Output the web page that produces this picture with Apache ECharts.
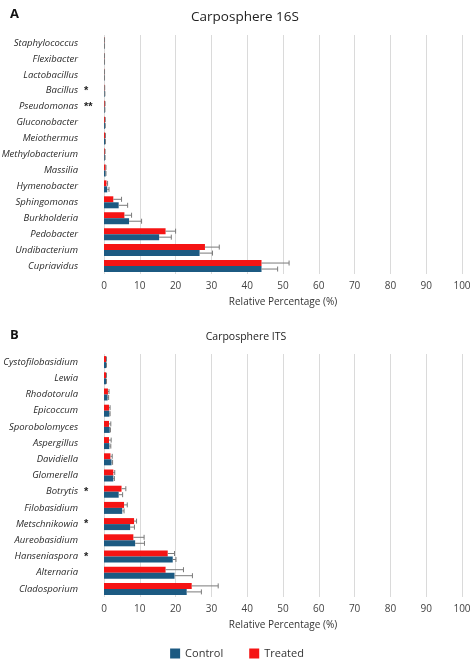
<!DOCTYPE html>
<html>
<head>
<meta charset="utf-8">
<script src="https://cdn.jsdelivr.net/npm/echarts@6/dist/echarts.min.js"></script>
<style>
  html, body { margin: 0; padding: 0; background: #fff; }
  #chart { width: 474px; height: 661px; }
</style>
</head>
<body>
<div id="chart"></div>
<script>
// Panel A - Carposphere 16S
const catA = ['Staphylococcus', 'Flexibacter', 'Lactobacillus', 'Bacillus', 'Pseudomonas', 'Gluconobacter',
    'Meiothermus', 'Methylobacterium', 'Massilia', 'Hymenobacter', 'Sphingomonas', 'Burkholderia',
    'Pedobacter', 'Undibacterium', 'Cupriavidus'];
const starsA = ['', '', '', '*', '**', '', '', '', '', '', '', '', '', '', ''];
const controlA = [0.1, 0.1, 0.1, 0.2, 0.2, 0.3, 0.35, 0.25, 0.45, 0.9, 4.1, 7.0, 15.4, 26.7, 44.0];
const controlSdA = [0.05, 0.05, 0.05, 0.05, 0.05, 0.05, 0.05, 0.05, 0.1, 0.5, 2.5, 3.5, 3.4, 3.6, 4.5];
const treatedA = [0.1, 0.1, 0.1, 0.15, 0.25, 0.3, 0.35, 0.25, 0.45, 0.7, 2.6, 5.7, 17.2, 28.2, 44.0];
const treatedSdA = [0.05, 0.05, 0.05, 0.05, 0.05, 0.05, 0.05, 0.05, 0.1, 0.3, 2.3, 2.0, 2.8, 4.0, 7.7];

// Panel B - Carposphere ITS
const catB = ['Cystofilobasidium', 'Lewia', 'Rhodotorula', 'Epicoccum', 'Sporobolomyces', 'Aspergillus',
    'Davidiella', 'Glomerella', 'Botrytis', 'Filobasidium', 'Metschnikowia', 'Aureobasidium',
    'Hanseniaspora', 'Alternaria', 'Cladosporium'];
const starsB = ['', '', '', '', '', '', '', '', '*', '', '*', '', '*', '', ''];
const controlB = [0.6, 0.6, 1.0, 1.5, 1.6, 1.5, 2.1, 2.6, 4.1, 5.1, 7.3, 8.7, 19.2, 19.7, 23.1];
const controlSdB = [0.1, 0.1, 0.3, 0.2, 0.2, 0.4, 0.3, 0.3, 1.1, 0.5, 1.2, 2.6, 0.9, 5.0, 4.1];
const treatedB = [0.6, 0.6, 1.1, 1.4, 1.4, 1.4, 1.8, 2.6, 4.9, 5.6, 8.4, 8.2, 17.8, 17.2, 24.5];
const treatedSdB = [0.1, 0.1, 0.3, 0.3, 0.5, 0.6, 0.5, 0.4, 1.2, 0.9, 0.7, 3.0, 1.9, 5.0, 7.4];

const xTicks = [0, 100, 10];

const blue = '#1c5a82';
const red = '#f51414';
const errColor = '#7a7a7a';
const barW = 6;

const chart = echarts.init(document.getElementById('chart'));

// offsetSign: -1 puts the error bar on the upper half of the band, +1 on the lower half
function errorSeries(gridIdx, means, sds, offsetSign) {
    return {
        type: 'custom',
        xAxisIndex: gridIdx,
        yAxisIndex: gridIdx,
        silent: true,
        z: 5,
        data: means.map((m, i) => [m, i, m + sds[i]]),
        renderItem: function (params, api) {
            const idx = api.value(1);
            const start = api.coord([api.value(0), idx]);
            const end = api.coord([api.value(2), idx]);
            const y = start[1] + offsetSign * barW / 2;
            const cap = 2.5;
            return {
                type: 'group',
                children: [
                    { type: 'line', shape: { x1: start[0], y1: y, x2: end[0], y2: y },
                      style: { stroke: errColor, lineWidth: 1 } },
                    { type: 'line', shape: { x1: end[0], y1: y - cap, x2: end[0], y2: y + cap },
                      style: { stroke: errColor, lineWidth: 1 } }
                ]
            };
        }
    };
}

function labelFormatter(stars) {
    return function (value, index) {
        return '{n|' + value + '}{s|' + (stars[index] || '') + '}';
    };
}

function makeXAxis(gridIdx) {
    return {
        type: 'value',
        gridIndex: gridIdx,
        min: xTicks[0],
        max: xTicks[1],
        interval: xTicks[2],
        name: 'Relative Percentage (%)',
        nameLocation: 'middle',
        nameGap: 23,
        nameTextStyle: { color: '#333', fontSize: 10, fontFamily: 'Open Sans' },
        axisLine: { show: false },
        axisTick: { show: false },
        axisLabel: { color: '#444', fontSize: 10, margin: 7, fontFamily: 'Open Sans' },
        splitLine: { lineStyle: { color: '#dadada', width: 1 } }
    };
}

function makeYAxis(gridIdx, cats, stars) {
    return {
        type: 'category',
        gridIndex: gridIdx,
        data: cats,
        inverse: true,
        axisLine: { show: false },
        axisTick: { show: false },
        axisLabel: {
            margin: 3,
            formatter: labelFormatter(stars),
            rich: {
                n: { align: 'left', fontStyle: 'italic', fontSize: 9.5, color: '#2a2a2a', fontFamily: 'Open Sans' },
                s: { align: 'left', width: 17, padding: [0, 0, 0, 6], fontSize: 11, fontWeight: 'bold', color: '#222' }
            }
        }
    };
}

function barSeries(name, color, gridIdx, values) {
    return {
        name: name,
        type: 'bar',
        xAxisIndex: gridIdx,
        yAxisIndex: gridIdx,
        data: values,
        barWidth: barW,
        barGap: '0%',
        itemStyle: { color: color },
        emphasis: { disabled: true }
    };
}

const option = {
    animation: false,
    backgroundColor: '#fff',
    title: [
        { text: 'A', left: 5, top: 3, textStyle: { fontSize: 13, fontWeight: 'bold', color: '#111', fontFamily: 'Open Sans' } },
        { text: 'Carposphere 16S', left: 240, top: 5, textAlign: 'center',
          textStyle: { fontSize: 13.5, fontWeight: 'normal', color: '#222', fontFamily: 'Open Sans' } },
        { text: 'B', left: 5, top: 324, textStyle: { fontSize: 13, fontWeight: 'bold', color: '#111', fontFamily: 'Open Sans' } },
        { text: 'Carposphere ITS', left: 241, top: 327, textAlign: 'center',
          textStyle: { fontSize: 10.5, fontWeight: 'normal', color: '#222', fontFamily: 'Open Sans' } }
    ],
    legend: {
        data: ['Control', 'Treated'],
        top: 643,
        left: 'center',
        itemWidth: 10,
        itemHeight: 10,
        itemGap: 26,
        icon: 'rect',
        textStyle: { fontSize: 11, color: '#333', fontFamily: 'Open Sans' }
    },
    grid: [
        { left: 104, right: 12, top: 35, height: 239, outerBoundsMode: 'none' },
        { left: 104, right: 12, top: 354, height: 243, outerBoundsMode: 'none' }
    ],
    xAxis: [makeXAxis(0), makeXAxis(1)],
    yAxis: [makeYAxis(0, catA, starsA), makeYAxis(1, catB, starsB)],
    series: [
        barSeries('Treated', red, 0, treatedA),
        barSeries('Control', blue, 0, controlA),
        barSeries('Treated', red, 1, treatedB),
        barSeries('Control', blue, 1, controlB),
        errorSeries(0, treatedA, treatedSdA, -1),
        errorSeries(0, controlA, controlSdA, 1),
        errorSeries(1, treatedB, treatedSdB, -1),
        errorSeries(1, controlB, controlSdB, 1)
    ]
};

chart.setOption(option);
</script>
</body>
</html>
